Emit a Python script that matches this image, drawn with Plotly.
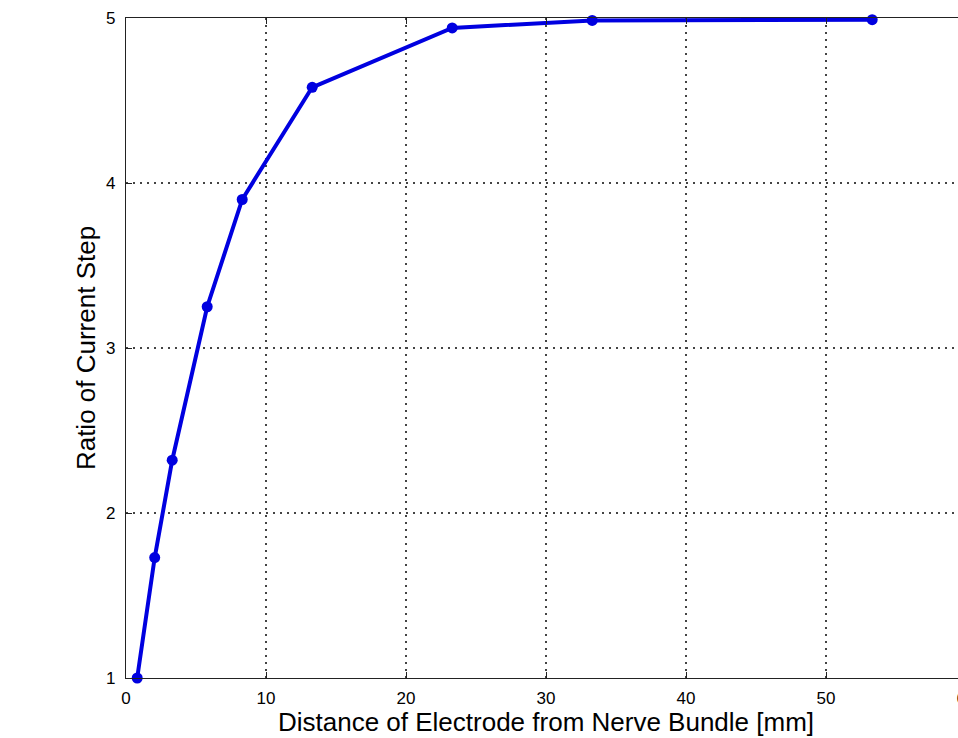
import plotly.graph_objects as go

distance_mm = [0.8, 2.05, 3.3, 5.8, 8.3, 13.3, 23.3, 33.3, 53.3]
ratio = [1.0, 1.73, 2.32, 3.25, 3.9, 4.58, 4.94, 4.985, 4.99]
x_ticks = [0, 10, 20, 30, 40, 50, 60]
y_ticks = [1, 2, 3, 4, 5]

fig = go.Figure()
fig.add_trace(go.Scatter(
    x=distance_mm, y=ratio, mode="lines+markers",
    line=dict(color="#0000E0", width=4),
    marker=dict(color="#0000E0", size=11),
    cliponaxis=False,
))

axis_common = dict(
    showline=True, linecolor="#222", linewidth=1.2, mirror="ticks",
    ticks="inside", ticklen=6, tickcolor="#222",
    showgrid=True, gridcolor="#444", griddash="2px,5px", gridwidth=1.5,
    zeroline=False, automargin=False,
    tickfont=dict(family="Liberation Sans, Arial", size=17, color="black"),
)

fig.update_xaxes(range=[0, 60], tickvals=x_ticks, ticklabelstandoff=4, **axis_common,
                 title=dict(text="Distance of Electrode from Nerve Bundle [mm]",
                            font=dict(family="Liberation Sans, Arial", size=26, color="black"),
                            standoff=0))
fig.update_yaxes(range=[1, 5], tickvals=y_ticks, ticklabelstandoff=6, **axis_common,
                 title=dict(text="Ratio of Current Step",
                            font=dict(family="Liberation Sans, Arial", size=26, color="black"),
                            standoff=2))

fig.update_layout(
    width=1000, height=738,
    margin=dict(l=126, r=34, t=18, b=60),
    plot_bgcolor="white", paper_bgcolor="white",
    showlegend=False,
)

fig.write_html("out.html")
